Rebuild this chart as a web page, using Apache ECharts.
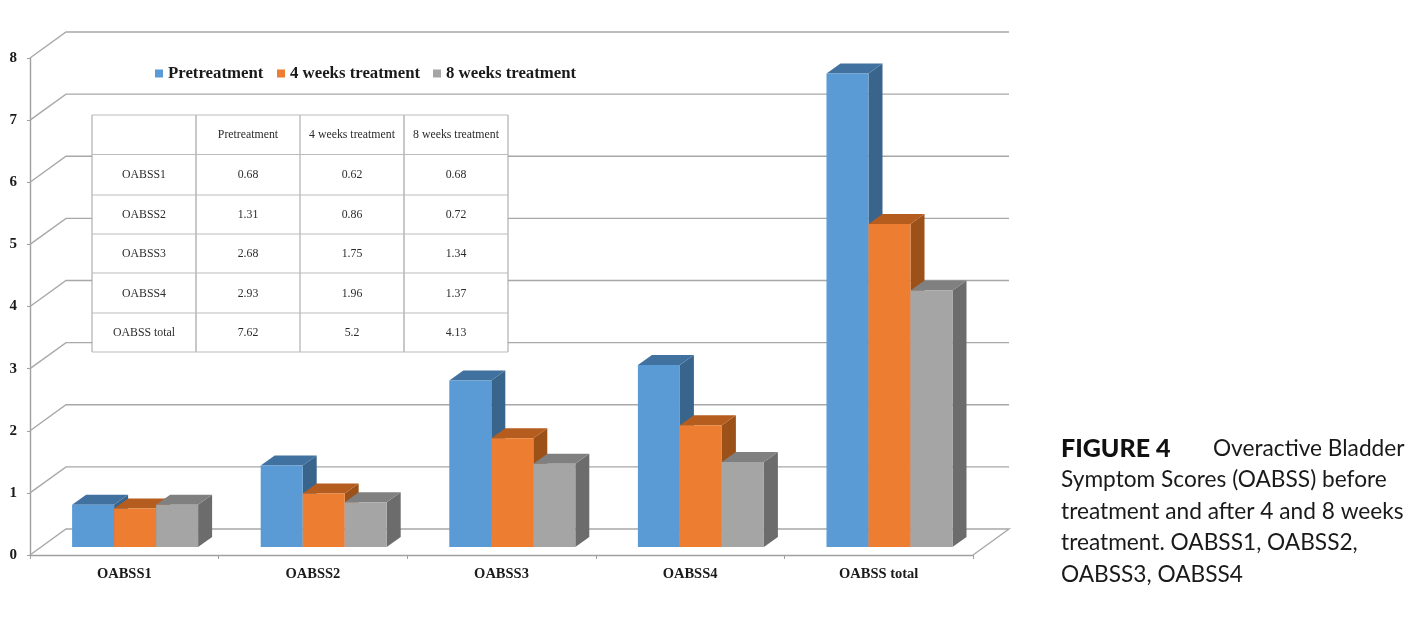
<!DOCTYPE html>
<html><head><meta charset="utf-8">
<style>html,body{margin:0;padding:0;background:#fff}#c{width:1422px;height:633px}</style>
<script src="https://cdn.jsdelivr.net/npm/echarts@6/dist/echarts.min.js"></script>
</head><body><div id="c"></div>
<script>
const categories = ['OABSS1','OABSS2','OABSS3','OABSS4','OABSS total'];
const seriesNames = ['Pretreatment','4 weeks treatment','8 weeks treatment'];
const pretreatment = [0.68,1.31,2.68,2.93,7.62];
const weeks4 = [0.62,0.86,1.75,1.96,5.2];
const weeks8 = [0.68,0.72,1.34,1.37,4.13];
const yTicks = [0,1,2,3,4,5,6,7,8];
const captionLines = ['Symptom Scores (OABSS) before','treatment and after 4 and 8 weeks','treatment. OABSS1, OABSS2,','OABSS3, OABSS4'];

const SERIF = '"Liberation Serif"';
const grid = {left:30, top:58, w:943, h:497};
const wall = {dx:36, dy:26}, base = {dx:10.8, dy:8}, bar = {w:42, dx:14, dy:10};
const palette = [
  {front:'#5B9BD5', top:'#41719F', side:'#39648C'},
  {front:'#ED7D31', top:'#B55D1F', side:'#9C5119'},
  {front:'#A5A5A5', top:'#808080', side:'#6C6C6C'}
];
const gridColor = '#A8A8A8';

function wallItem(params, api){
  const p = api.coord([0, api.value(1)]);
  const cs = params.coordSys;
  const x0 = cs.x, x1 = cs.x + cs.width, y = p[1];
  const pts = [[x0,y],[x0+wall.dx,y-wall.dy],[x1+wall.dx,y-wall.dy]];
  if (api.value(1) === 0) pts.push([x1,y]);
  return {type:'polyline', silent:true, shape:{points:pts},
    style:{stroke:gridColor, lineWidth:1.4, fill:null}};
}
function barItem(idx){
  return function(params, api){
    const c = palette[idx];
    const i = api.value(0);
    const top = api.coord([i, api.value(1)]);
    const bottom = api.coord([i, 0]);
    const x = top[0] + base.dx - bar.w*1.5 + idx*bar.w;
    const y = top[1] - base.dy, y0 = bottom[1] - base.dy;
    const w = bar.w, dx = bar.dx, dy = bar.dy;
    const poly = (points, fill) => ({type:'polygon', silent:true, shape:{points}, style:{fill, stroke:null}});
    return {type:'group', children:[
      poly([[x+w,y],[x+w+dx,y-dy],[x+w+dx,y0-dy],[x+w,y0]], c.side),
      poly([[x,y],[x+w,y],[x+w+dx,y-dy],[x+dx,y-dy]], c.top),
      poly([[x,y],[x+w,y],[x+w,y0],[x,y0]], c.front)
    ]};
  };
}
const values = [pretreatment, weeks4, weeks8];
const series = [{
  type:'custom', name:'walls', renderItem:wallItem, clip:false, z:1,
  data: yTicks.map(v=>[0,v]), encode:{x:0,y:1}, silent:true
}].concat(seriesNames.map((name,k)=>({
  type:'custom', name, renderItem:barItem(k), clip:false, z:2+k,
  itemStyle:{color:palette[k].front},
  data: values[k].map((v,i)=>[i,v]), encode:{x:0,y:1}
})));

// table
const tbl = {xs:[92,196,300,404,508], ys:[115,154.5,195,234,273,313,352]};
const graphics = [];
const tc = '#2b2b2b', tl = '#A0A0A0';
graphics.push({type:'rect', z:50, shape:{x:92,y:115,width:416,height:237}, style:{fill:'#fff',stroke:null}});
tbl.xs.forEach((x,j)=>graphics.push({type:'line', z:51, shape:{x1:x,y1:115,x2:x,y2:352}, style:{stroke:j===1||j===3?'#909090':tl,lineWidth:1}}));
tbl.ys.forEach(y=>graphics.push({type:'line', z:51, shape:{x1:92,y1:y,x2:508,y2:y}, style:{stroke:'#BBBBBB',lineWidth:1}}));
function cell(r,c,t){
  graphics.push({type:'text', z:52, style:{
    x:(tbl.xs[c]+tbl.xs[c+1])/2, y:(tbl.ys[r]+tbl.ys[r+1])/2+0.5,
    text:String(t), align:'center', verticalAlign:'middle',
    font:'11.8px '+SERIF, fill:tc}});
}
seriesNames.forEach((n,j)=>cell(0,j+1,n));
categories.forEach((n,i)=>{
  cell(i+1,0,n);
  values.forEach((arr,j)=>cell(i+1,j+1,arr[i]));
});
// caption
const capFont = '22.7px Lato';
graphics.push({type:'text', z:60, style:{x:1061,y:449,text:'FIGURE 4',verticalAlign:'middle',font:'900 25px Lato',fill:'#111'}});
graphics.push({type:'text', z:60, style:{x:1213,y:449,text:'Overactive Bladder',verticalAlign:'middle',font:capFont,fill:'#1a1a1a'}});
captionLines.forEach((t,i)=>graphics.push({type:'text', z:60, style:{x:1061,y:480+i*31.4,text:t,verticalAlign:'middle',font:capFont,fill:'#1a1a1a'}}));

const legendLeft = [155,277,433];
const chart = echarts.init(document.getElementById('c'), null, {renderer:'canvas'});
chart.setOption({
  animation:false,
  backgroundColor:'#fff',
  grid:{left:grid.left, top:grid.top, width:grid.w, height:grid.h, containLabel:false},
  legend: seriesNames.map((n,k)=>({
    data:[n], left:legendLeft[k], top:65, padding:0, itemWidth:8, itemHeight:8, icon:'rect', selectedMode:false,
    textStyle:{fontFamily:SERIF, fontWeight:'bold', fontSize:16.8, color:'#1a1a1a'}
  })),
  xAxis:{type:'category', data:categories,
    axisLine:{lineStyle:{color:'#A0A0A0',width:1.4}},
    axisTick:{show:true,length:4,lineStyle:{color:'#A0A0A0'}},
    axisLabel:{fontFamily:SERIF,fontWeight:'bold',fontSize:14.5,color:'#1a1a1a',margin:12}},
  yAxis:{type:'value', min:0, max:8, interval:1,
    splitLine:{show:false},
    axisLine:{show:true,lineStyle:{color:'#A0A0A0',width:1.4}},
    axisTick:{show:true,length:3,lineStyle:{color:'#A0A0A0'}},
    axisLabel:{fontFamily:SERIF,fontWeight:'bold',fontSize:15,color:'#1a1a1a',margin:13}},
  series,
  graphic:{elements:graphics}
});
</script></body></html>
